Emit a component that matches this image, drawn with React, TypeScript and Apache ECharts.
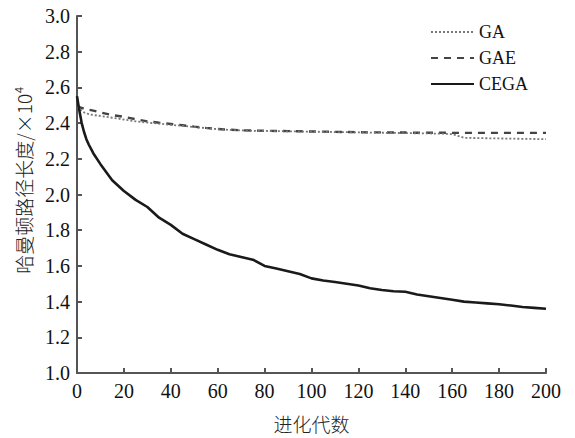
import React, { useEffect, useRef } from "react";
import * as echarts from "echarts";

const generations = [0, 1, 2, 3, 4, 5, 7, 10, 15, 20, 25, 30, 35, 40, 45, 50, 55, 60, 65, 70, 75, 80, 85, 90, 95, 100, 105, 110, 115, 120, 125, 130, 135, 140, 145, 150, 155, 160, 165, 170, 175, 180, 185, 190, 195, 200];

const gaValues = [2.49, 2.48, 2.47, 2.46, 2.455, 2.45, 2.445, 2.44, 2.43, 2.42, 2.41, 2.403, 2.397, 2.39, 2.385, 2.378, 2.372, 2.366, 2.362, 2.359, 2.357, 2.356, 2.355, 2.354, 2.353, 2.352, 2.351, 2.35, 2.349, 2.348, 2.347, 2.346, 2.345, 2.344, 2.343, 2.342, 2.341, 2.338, 2.318, 2.316, 2.315, 2.314, 2.313, 2.312, 2.311, 2.31];

const gaeValues = [2.49, 2.49, 2.485, 2.48, 2.478, 2.475, 2.47, 2.46, 2.445, 2.435, 2.422, 2.41, 2.402, 2.395, 2.388, 2.38, 2.373, 2.367, 2.363, 2.36, 2.358, 2.357, 2.356, 2.355, 2.354, 2.353, 2.352, 2.351, 2.35, 2.349, 2.348, 2.348, 2.347, 2.347, 2.346, 2.346, 2.346, 2.345, 2.345, 2.345, 2.345, 2.345, 2.345, 2.345, 2.345, 2.345];

const cegaValues = [2.55, 2.47, 2.4, 2.35, 2.31, 2.28, 2.23, 2.17, 2.08, 2.02, 1.97, 1.93, 1.87, 1.83, 1.78, 1.75, 1.72, 1.69, 1.665, 1.65, 1.635, 1.6, 1.585, 1.57, 1.555, 1.53, 1.518, 1.51, 1.5, 1.49, 1.475, 1.465, 1.458, 1.455, 1.44, 1.43, 1.42, 1.41, 1.4, 1.395, 1.39, 1.385, 1.378, 1.37, 1.365, 1.36];

const seriesNames = ["GA", "GAE", "CEGA"];
const xAxisName = "进化代数";
const yAxisName = "哈曼顿路径长度/×10⁴";

const pair = (vals: number[]) => generations.map((g, i) => [g, vals[i]]);

export default function App() {
  const ref = useRef<HTMLDivElement>(null);
  useEffect(() => {
    if (!ref.current) return;
    const chart = echarts.init(ref.current, undefined, { renderer: "svg" });
    const serif = "Liberation Serif";
    const cjk = "Noto Sans CJK SC";
    chart.setOption({
      animation: false,
      backgroundColor: "#ffffff",
      grid: { left: 77, right: 29, top: 16, bottom: 54, containLabel: false },
      legend: {
        orient: "vertical",
        left: 425,
        top: 18,
        itemWidth: 43,
        itemHeight: 14,
        itemGap: 8,
        itemStyle: { opacity: 0 },
        textStyle: { fontFamily: serif, fontSize: 18, color: "#111" },
        data: seriesNames,
      },
      graphic: [
        {
          type: "text",
          x: 23,
          y: 180,
          rotation: Math.PI / 2,
          style: {
            text: yAxisName,
            fontFamily: cjk,
            fontSize: 19,
            fontWeight: 300,
            fill: "#222",
            align: "center",
            verticalAlign: "middle",
          },
        },
      ],
      xAxis: {
        type: "value",
        min: 0,
        max: 200,
        interval: 20,
        name: xAxisName,
        nameLocation: "middle",
        nameGap: 41,
        nameTextStyle: { fontFamily: cjk, fontSize: 19, fontWeight: 300, color: "#222" },
        axisLine: { lineStyle: { color: "#555", width: 2 } },
        axisTick: { inside: true, length: 5, lineStyle: { color: "#555", width: 2 } },
        axisLabel: { fontFamily: serif, fontSize: 20, color: "#111", margin: 8 },
        splitLine: { show: false },
      },
      yAxis: {
        type: "value",
        min: 1.0,
        max: 3.0,
        interval: 0.2,
        axisLine: { show: true, lineStyle: { color: "#555", width: 2 } },
        axisTick: { show: true, inside: true, length: 5, lineStyle: { color: "#555", width: 2 } },
        axisLabel: {
          fontFamily: serif,
          fontSize: 20,
          color: "#111",
          margin: 7,
          formatter: (v: number) => v.toFixed(1),
        },
        splitLine: { show: false },
      },
      series: [
        {
          name: seriesNames[0],
          type: "line",
          symbol: "none",
          data: pair(gaValues),
          lineStyle: { color: "#777", width: 1.8, type: [2, 2] },
          itemStyle: { color: "#777" },
          z: 3,
        },
        {
          name: seriesNames[1],
          type: "line",
          symbol: "none",
          data: pair(gaeValues),
          lineStyle: { color: "#444", width: 2.4, type: [7, 6] },
          itemStyle: { color: "#444" },
          z: 2,
        },
        {
          name: seriesNames[2],
          type: "line",
          symbol: "none",
          data: pair(cegaValues),
          lineStyle: { color: "#1a1a1a", width: 2.6, type: "solid" },
          itemStyle: { color: "#1a1a1a" },
          z: 4,
        },
      ],
    });
    return () => chart.dispose();
  }, []);
  return (
    <div
      ref={ref}
      style={{ position: "fixed", left: 0, top: 0, width: 575, height: 438, background: "#fff" }}
    />
  );
}
